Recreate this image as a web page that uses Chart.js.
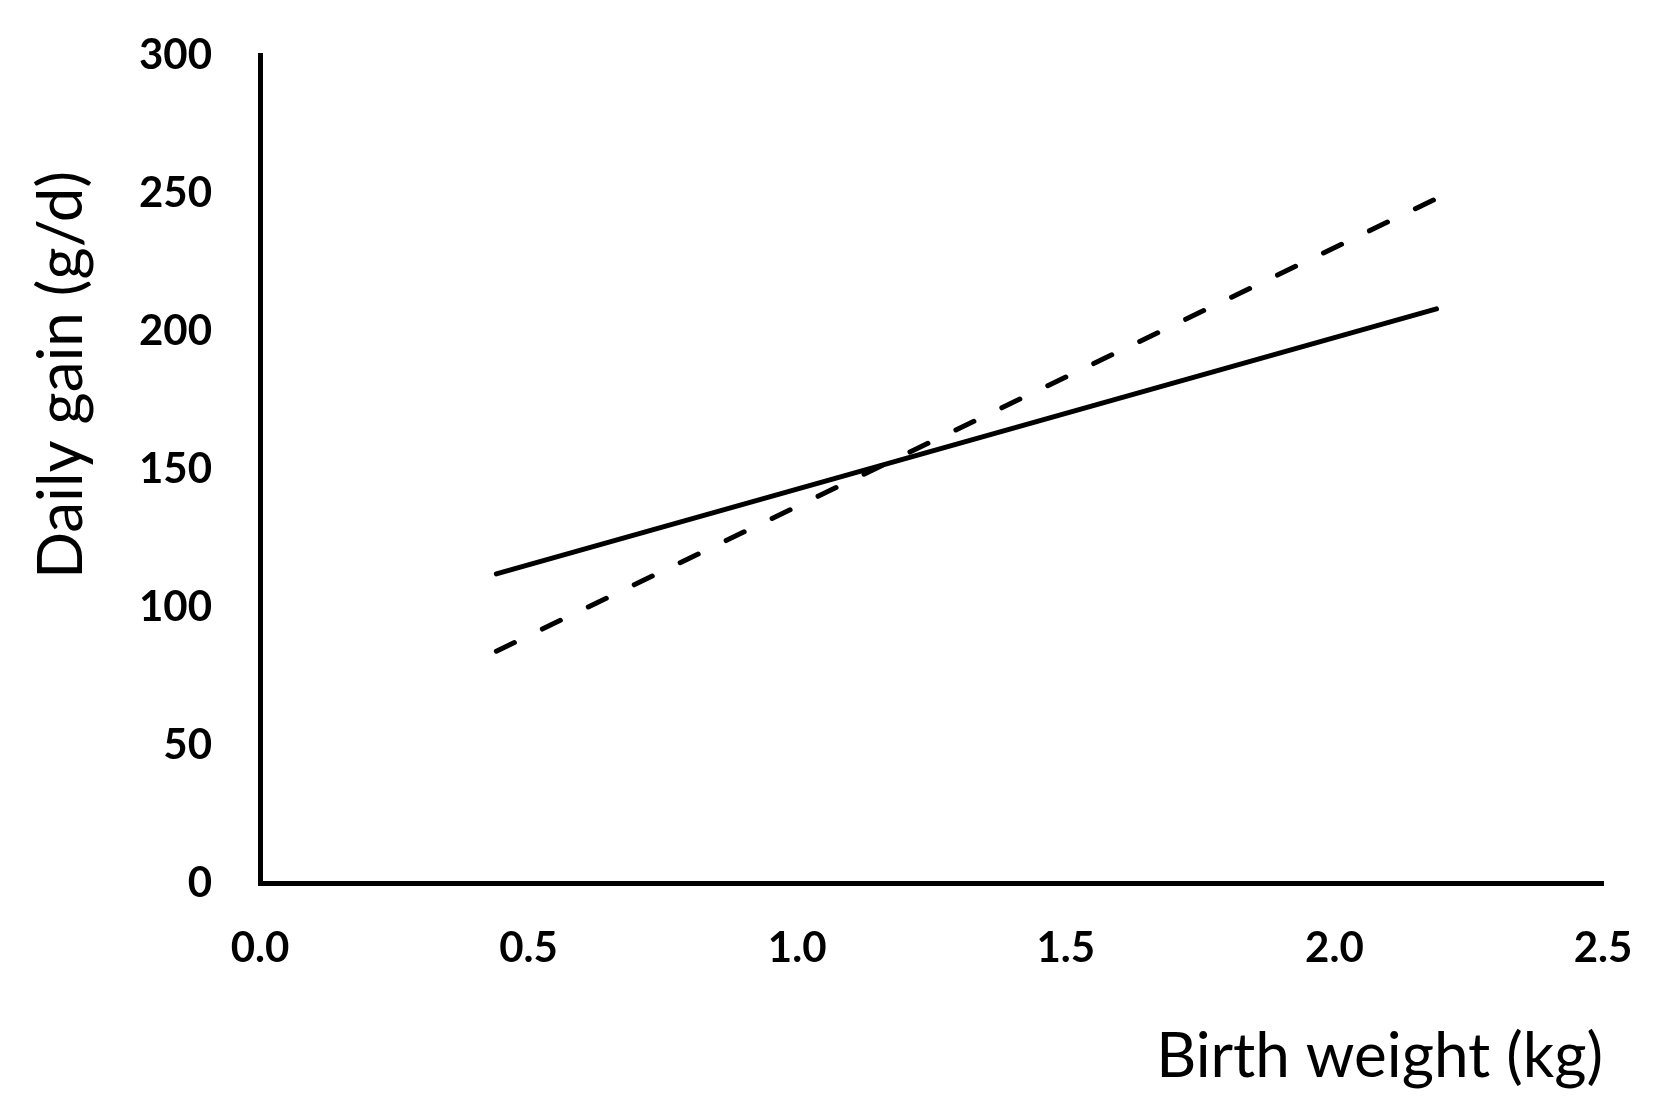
<!DOCTYPE html>
<html>
<head>
<meta charset="utf-8">
<title>Daily gain vs birth weight</title>
<script src="https://cdn.jsdelivr.net/npm/chart.js@4.4.1/dist/chart.umd.min.js"></script>
<style>
  html, body { margin: 0; padding: 0; background: #fff; }
  #wrap { width: 1653px; height: 1110px; position: relative; }
</style>
</head>
<body>
<div id="wrap"><canvas id="chart"></canvas></div>
<script>
  // values
  var birthWeight = [0.44, 2.19];          // kg, ends of both regression lines
  var gainSolid   = [112, 208];            // g/d, solid line
  var gainDashed  = [84, 248];             // g/d, dashed line
  var xTicks = [0.0, 0.5, 1.0, 1.5, 2.0, 2.5];
  var yTicks = [0, 50, 100, 150, 200, 250, 300];

  var xTitle = "Birth weight (kg)";
  var yTitle = "Daily gain (g/d)";

  function pts(xs, ys) {
    return xs.map(function (x, i) { return { x: x, y: ys[i] }; });
  }

  var tickFont = { family: "Lato, sans-serif", weight: "bold", size: 42 };

  // axis titles placed like the original (y title sits high, x title right-aligned)
  var axisTitles = {
    id: "axisTitles",
    afterDraw: function (chart) {
      var ctx = chart.ctx, a = chart.chartArea;
      ctx.save();
      ctx.fillStyle = "#000";
      ctx.font = "62px Lato, sans-serif";
      ctx.textBaseline = "alphabetic";

      ctx.textAlign = "right";
      ctx.fillText(xTitle, a.right, a.bottom + 194);

      ctx.translate(a.left - 178, a.top + 320);
      ctx.rotate(-Math.PI / 2);
      ctx.textAlign = "center";
      ctx.fillText(yTitle, 0, 0);
      ctx.restore();
    }
  };

  new Chart(document.getElementById("chart"), {
    type: "scatter",
    data: {
      datasets: [{
        data: pts(birthWeight, gainSolid),
        showLine: true,
        borderColor: "#000",
        borderWidth: 5,
        pointRadius: 0,
        borderCapStyle: "round"
      }, {
        data: pts(birthWeight, gainDashed),
        showLine: true,
        borderColor: "#000",
        borderWidth: 5,
        pointRadius: 0,
        borderDash: [20, 31],
        borderCapStyle: "round"
      }]
    },
    options: {
      responsive: true,
      maintainAspectRatio: false,
      animation: false,
      layout: { padding: { top: 55, right: 50, left: 0, bottom: 0 } },
      plugins: { legend: { display: false }, tooltip: { enabled: false } },
      scales: {
        x: {
          type: "linear",
          min: xTicks[0],
          max: xTicks[xTicks.length - 1],
          afterBuildTicks: function (s) { s.ticks = xTicks.map(function (v) { return { value: v }; }); },
          // keep the plot area where the original has it (no label overhang padding)
          afterFit: function (s) { s.height = 227; s.paddingLeft = 0; s.paddingRight = 0; },
          ticks: {
            color: "#000",
            font: tickFont,
            padding: 40,
            maxRotation: 0,
            callback: function (v) { return Number(v).toFixed(1); }
          },
          grid: { display: false, drawTicks: false },
          border: { display: true, color: "#000", width: 5 }
        },
        y: {
          min: yTicks[0],
          max: yTicks[yTicks.length - 1],
          afterBuildTicks: function (s) { s.ticks = yTicks.map(function (v) { return { value: v }; }); },
          afterFit: function (s) { s.width = 260; s.paddingTop = 0; s.paddingBottom = 0; },
          ticks: { color: "#000", font: tickFont, padding: 48 },
          grid: { display: false, drawTicks: false },
          border: { display: true, color: "#000", width: 5 }
        }
      }
    },
    plugins: [axisTitles]
  });
</script>
</body>
</html>
